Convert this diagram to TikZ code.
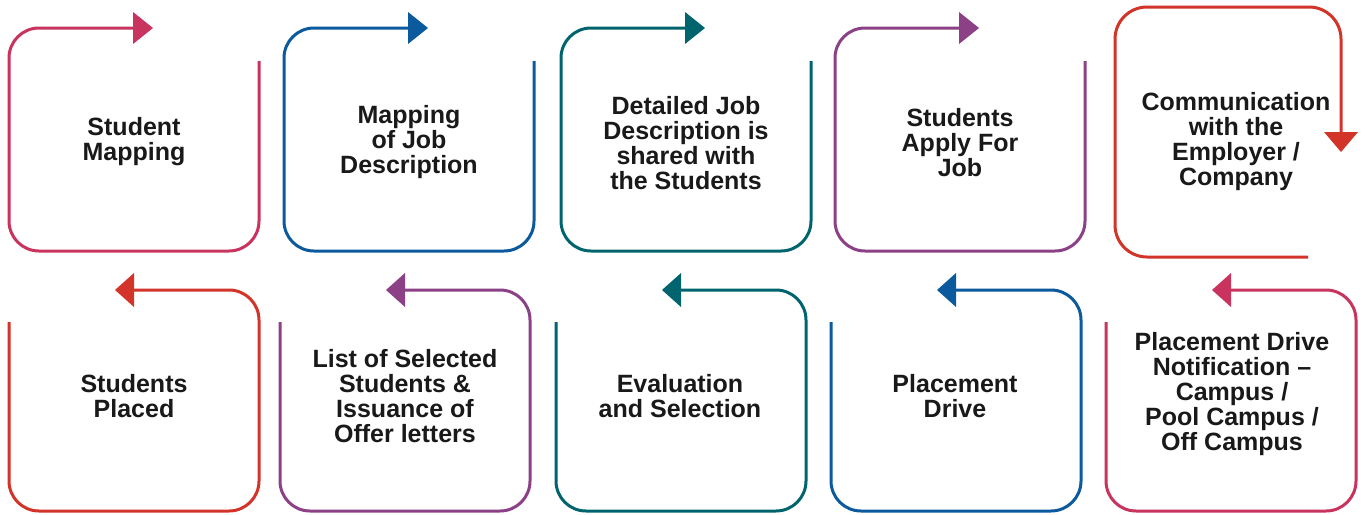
\documentclass[tikz,border=0pt]{standalone}
\usepackage{fontspec}
\setmainfont{Liberation Sans}
\definecolor{cpink}{HTML}{C8345E}
\definecolor{cblue}{HTML}{0B5A9E}
\definecolor{cteal}{HTML}{00646E}
\definecolor{cpurple}{HTML}{8C4186}
\definecolor{cred}{HTML}{D2342A}
\tikzset{
  frame/.style={line width=3pt, rounded corners=30pt},
  lbl/.style={align=center, inner sep=0pt, font=\bfseries\fontsize{25}{25}\selectfont, text=black!90},
}
% top-row box: #1 left x, #2 colour
\newcommand{\topbox}[2]{%
  \draw[frame, #2] (#1+250,61) -- (#1+250,251) -- (#1,251) -- (#1,28) -- (#1+125,28);
  \fill[#2] (#1+144,28) -- (#1+124,12) -- (#1+124,44) -- cycle;
}
\newcommand{\botbox}[2]{%
  \draw[frame, #2] (#1,322) -- (#1,511) -- (#1+250,511) -- (#1+250,290) -- (#1+124,290);
  \fill[#2] (#1+106,290) -- (#1+125,273) -- (#1+125,307) -- cycle;
}
\begin{document}
\begin{tikzpicture}[x=1pt,y=-1pt]
\useasboundingbox (0,0) rectangle (1365,514);
\fill[white] (0,0) rectangle (1365,514);
\topbox{9}{cpink}
\topbox{284}{cblue}
\topbox{561}{cteal}
\topbox{835}{cpurple}
% box 5
\draw[frame, cred, rounded corners=32pt] (1308,257) -- (1115,257) -- (1115,7) -- (1341,7) -- (1341,133);
\fill[cred] (1341,152) -- (1324,132) -- (1358,132) -- cycle;
\botbox{9}{cred}
\botbox{280}{cpurple}
\botbox{556}{cteal}
\botbox{831}{cblue}
\botbox{1106}{cpink}

\node[lbl] (t1) at (134,142) {Student\\Mapping};
\node[lbl] (t2) at (409,142) {Mapping\\of Job\\Description};
\node[lbl] (t3) at (686,143) {Detailed Job\\Description is\\shared with\\the Students};
\node[lbl] (t4) at (960,143) {Students\\Apply For\\Job};
\node[lbl] (t5) at (1236,142) {Communication\\with the\\Employer /\\Company};
\node[lbl] (t6) at (134,396) {Students\\Placed};
\node[lbl] (t7) at (405,396) {List of Selected\\Students \&\\Issuance of\\Offer letters};
\node[lbl] (t8) at (680,396) {Evaluation\\and Selection};
\node[lbl] (t9) at (955,396) {Placement\\Drive};
\node[lbl] (t10) at (1232,394) {Placement Drive\\Notification –\\Campus /\\Pool Campus /\\Off Campus};
\end{tikzpicture}
\end{document}
